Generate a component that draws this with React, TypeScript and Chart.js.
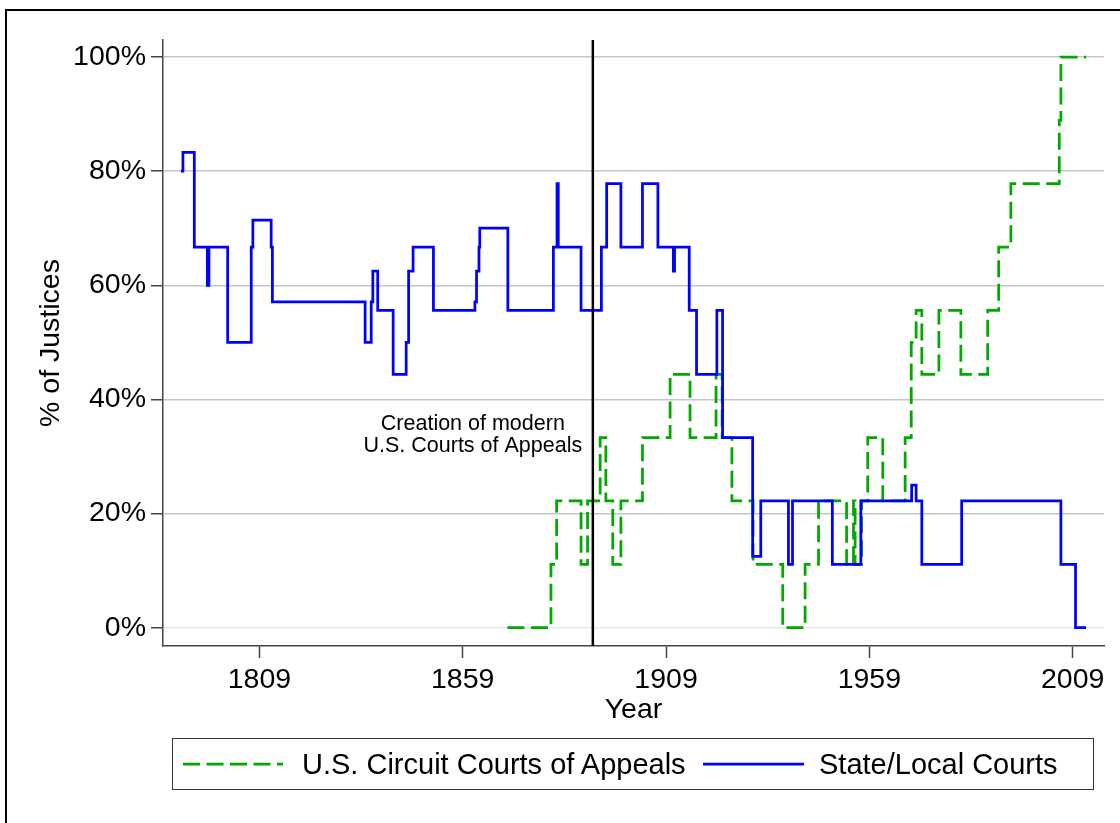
import React, { useEffect, useRef } from 'react';
import { Chart, registerables } from 'chart.js';

Chart.register(...registerables);

// ---------- data ----------
const stateYears = [
  1789.7, 1790.2, 1793.0, 1796.2, 1796.6, 1801.2, 1807.0, 1807.4, 1811.9, 1812.2,
  1835.0, 1836.5, 1836.9, 1838.1, 1841.9, 1845.1, 1845.7, 1846.8, 1851.8, 1862.0,
  1862.4, 1863.0, 1863.2, 1870.1, 1881.3, 1882.2, 1882.5, 1888.1, 1893.1, 1894.4,
  1897.9, 1903.2, 1907.0, 1910.8, 1911.1, 1914.7, 1916.5, 1921.5, 1922.9, 1930.3,
  1932.3, 1939.1, 1940.1, 1949.9, 1956.9, 1969.4, 1970.5, 1971.9, 1981.7, 2006.1,
  2009.7, 2012.3,
];
const stateValues = [
  80, 83.3, 66.7, 60, 66.7, 50, 66.7, 71.4, 66.7, 57.1,
  50, 57.1, 62.5, 55.6, 44.4, 50, 62.5, 66.7, 55.6, 57.1,
  62.5, 66.7, 70, 55.6, 66.7, 77.8, 66.7, 55.6, 66.7, 77.8,
  66.7, 77.8, 66.7, 62.5, 66.7, 55.6, 44.4, 55.6, 33.3, 12.5,
  22.2, 11.1, 22.2, 11.1, 22.2, 25, 22.2, 11.1, 22.2, 11.1,
  0, 0,
];

const circuitYears = [
  1870.0, 1880.7, 1882.1, 1888.1, 1889.7, 1892.8, 1894.2, 1895.9, 1897.9, 1903.2,
  1910.0, 1914.9, 1921.3, 1922.8, 1925.2, 1930.4, 1937.7, 1943.2, 1946.5, 1953.4,
  1955.1, 1955.5, 1957.1, 1958.6, 1962.3, 1967.8, 1969.3, 1970.5, 1971.9, 1976.1,
  1981.5, 1988.1, 1990.8, 1993.8, 2005.7, 2006.1, 2012.3,
];
const circuitValues = [
  0, 11.1, 22.2, 11.1, 22.2, 33.3, 22.2, 11.1, 22.2, 33.3,
  44.4, 33.3, 44.4, 33.3, 22.2, 11.1, 0, 11.1, 22.2, 11.1,
  22.2, 11.1, 22.2, 33.3, 22.2, 33.3, 50, 55.6, 44.4, 55.6,
  44.4, 55.6, 66.7, 77.8, 88.9, 100, 100,
];

const xTickYears = [1809, 1859, 1909, 1959, 2009];
const yTickValues = [0, 20, 40, 60, 80, 100];
const referenceYear = 1891;
const seriesLabels = ['U.S. Circuit Courts of Appeals', 'State/Local Courts'];
const annotationLines = ['Creation of modern', 'U.S. Courts of Appeals'];
const xAxisTitle = 'Year';
const yAxisTitle = '% of Justices';

// ---------- styling / layout ----------
const FONT = "'Liberation Sans', Arial, Helvetica, sans-serif";
const GREEN = '#00a800';
const BLUE = '#0000ff';
const X_MIN = 1785.3;
const X_MAX = 2016.7;
const Y_MIN = -3.21;
const Y_MAX = 102.98;
const DASH = [17, 6.5];
const LINE_W = 2.75;

const annotationPlugin = {
  id: 'courtAnnotation',
  afterDatasetsDraw(chart: any) {
    const { ctx, scales } = chart;
    const cx = scales.x.getPixelForValue(referenceYear) - 120;
    const cy = scales.y.getPixelForValue(35.7);
    ctx.save();
    ctx.font = `21.5px ${FONT}`;
    ctx.fillStyle = '#000';
    ctx.textAlign = 'center';
    ctx.textBaseline = 'middle';
    annotationLines.forEach((t, i) => ctx.fillText(t, cx, cy + i * 22));
    ctx.restore();
  },
};

export default function App() {
  const canvasRef = useRef<HTMLCanvasElement>(null);

  useEffect(() => {
    const canvas = canvasRef.current;
    if (!canvas) return;
    Chart.defaults.font.family = FONT;
    const chart = new Chart(canvas, {
      type: 'line',
      data: {
        datasets: [
          {
            label: 'reference',
            data: [
              { x: referenceYear, y: Y_MIN },
              { x: referenceYear, y: Y_MAX },
            ],
            borderColor: '#000',
            borderWidth: 2.5,
            pointRadius: 0,
          },
          {
            label: seriesLabels[1],
            data: stateYears.map((x, i) => ({ x, y: stateValues[i] })),
            borderColor: BLUE,
            borderWidth: LINE_W,
            pointRadius: 0,
            stepped: 'before',
          },
          {
            label: seriesLabels[0],
            data: circuitYears.map((x, i) => ({ x, y: circuitValues[i] })),
            borderColor: GREEN,
            borderWidth: LINE_W,
            borderDash: DASH,
            pointRadius: 0,
            stepped: 'before',
          },
        ],
      },
      options: {
        responsive: false,
        animation: false,
        devicePixelRatio: 1,
        layout: { padding: { top: 40, right: 16, bottom: 0, left: 0 } },
        plugins: {
          legend: { display: false },
          tooltip: { enabled: false },
        },
        scales: {
          x: {
            type: 'linear',
            min: X_MIN,
            max: X_MAX,
            afterBuildTicks: (s: any) => {
              s.ticks = xTickYears.map((v) => ({ value: v }));
            },
            afterFit: (s: any) => {
              s.height = 177;
            },
            grid: {
              drawOnChartArea: false,
              drawTicks: true,
              tickLength: 12,
              tickColor: '#444',
              tickWidth: 1.5,
            },
            border: { display: true, color: '#444', width: 1.5 },
            ticks: {
              color: '#000',
              font: { family: FONT, size: 28.5 },
              padding: 5,
              maxRotation: 0,
              autoSkip: false,
              callback: (v: any) => String(v),
            },
            title: {
              display: true,
              text: xAxisTitle,
              color: '#000',
              font: { family: FONT, size: 28.5 },
              padding: { top: 0, bottom: 96 },
            },
          },
          y: {
            type: 'linear',
            min: Y_MIN,
            max: Y_MAX,
            afterBuildTicks: (s: any) => {
              s.ticks = yTickValues.map((v) => ({ value: v }));
            },
            afterFit: (s: any) => {
              s.width = 163;
            },
            grid: {
              color: (c: any) => (c.tick && c.tick.value === 0 ? '#e2eaee' : '#c3c7c7'),
              lineWidth: 1.5,
              drawTicks: true,
              tickLength: 12,
              tickColor: '#444',
              tickWidth: 1.5,
            },
            border: { display: true, color: '#444', width: 1.5 },
            ticks: {
              color: '#000',
              font: { family: FONT, size: 28.5 },
              padding: 5,
              callback: (v: any) => `${v}%`,
            },
            title: {
              display: true,
              text: yAxisTitle,
              color: '#000',
              font: { family: FONT, size: 28.5 },
              padding: { top: 34, bottom: 0 },
            },
          },
        },
      },
      plugins: [annotationPlugin],
    } as any);
    return () => chart.destroy();
  }, []);

  const textStyle: React.CSSProperties = {
    position: 'absolute',
    top: 738,
    height: 52,
    lineHeight: '52px',
    fontFamily: FONT,
    fontSize: 29,
    color: '#000',
    whiteSpace: 'nowrap',
  };

  return (
    <div
      style={{
        position: 'absolute',
        left: 0,
        top: 0,
        width: 1120,
        height: 823,
        overflow: 'hidden',
        background: '#fff',
      }}
    >
      <canvas
        ref={canvasRef}
        width={1120}
        height={823}
        style={{ position: 'absolute', left: 0, top: 0 }}
      />
      <div
        style={{
          position: 'absolute',
          left: 5,
          top: 9,
          width: 1300,
          height: 1000,
          borderLeft: '2px solid #000',
          borderTop: '2px solid #000',
          pointerEvents: 'none',
        }}
      />
      <div
        style={{
          position: 'absolute',
          left: 172,
          top: 738,
          width: 922,
          height: 52,
          border: '1.5px solid #333',
          boxSizing: 'border-box',
        }}
      />
      <svg
        width={1120}
        height={823}
        style={{ position: 'absolute', left: 0, top: 0, pointerEvents: 'none' }}
      >
        <line
          x1={183}
          y1={764}
          x2={283}
          y2={764}
          stroke={GREEN}
          strokeWidth={LINE_W}
          strokeDasharray={DASH.join(' ')}
        />
        <line x1={703} y1={764} x2={804} y2={764} stroke={BLUE} strokeWidth={LINE_W} />
      </svg>
      <div style={{ ...textStyle, left: 302 }}>{seriesLabels[0]}</div>
      <div style={{ ...textStyle, left: 819 }}>{seriesLabels[1]}</div>
    </div>
  );
}
